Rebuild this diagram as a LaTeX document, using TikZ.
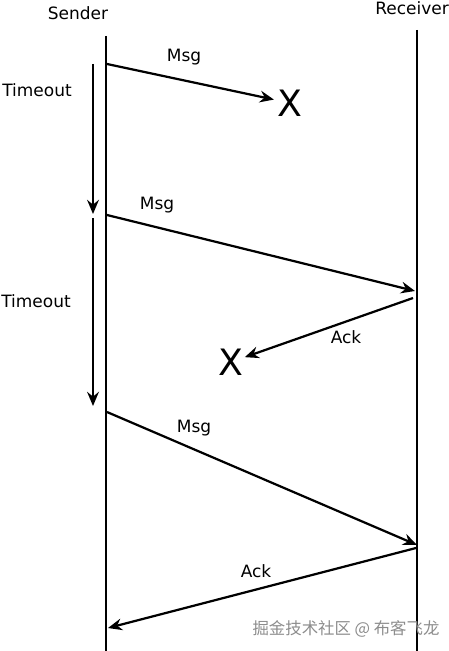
\documentclass[tikz,border=0pt]{standalone}
\usepackage{fontspec}
\setmainfont{DejaVu Sans}
\newfontfamily\cjkfont{Noto Sans CJK SC}
\usetikzlibrary{arrows.meta}

\tikzset{
  lifeline/.style={line width=2pt},
  msgline/.style={line width=1.9pt, -{Stealth[length=12pt,width=10pt,inset=4pt]}},
  timerline/.style={line width=2pt, -{Stealth[length=12pt,width=10pt,inset=4pt]}},
  lbl/.style={inner sep=0pt, font=\fontsize{14.5}{17}\selectfont},
  lost/.style={inner sep=0pt, font=\fontsize{31}{34}\selectfont},
}

\begin{document}
\begin{tikzpicture}[x=0.03cm, y=-0.03cm]
  \useasboundingbox (0,0) rectangle (448,651);

  % lifelines
  \node[lbl] (sender) at (78,13) {Sender};
  \node[lbl] (receiver) at (412,8) {Receiver};
  \coordinate (stop) at (106,36);
  \coordinate (sbot) at (106,651);
  \coordinate (rtop) at (417,30);
  \coordinate (rbot) at (417,651);
  \draw[lifeline] (stop) -- (sbot);
  \draw[lifeline] (rtop) -- (rbot);

  % timers
  \coordinate (t1a) at (93,64);
  \coordinate (t1b) at (93,214);
  \coordinate (t2a) at (93,218);
  \coordinate (t2b) at (93,406);
  \draw[timerline] (t1a) -- (t1b);
  \draw[timerline] (t2a) -- (t2b);
  \node[lbl] (timeout1) at (37,90) {Timeout};
  \node[lbl] (timeout2) at (36,301) {Timeout};

  % first try, lost
  \coordinate (m1s) at (107,64);
  \node[lost] (x1) at (290,103) {X};
  \draw[msgline, shorten >=3pt] (m1s) -- (x1);
  \node[lbl] (msg1) at (184,57) {Msg};

  % second try, ack lost
  \coordinate (m2s) at (107,215);
  \coordinate (m2e) at (415,291);
  \draw[msgline] (m2s) -- (m2e);
  \node[lbl] (msg2) at (157,205) {Msg};
  \coordinate (a1s) at (413,298);
  \node[lost] (x2) at (231,362) {X};
  \draw[msgline, shorten >=1pt] (a1s) -- (x2);
  \node[lbl] (ack1) at (346,337) {Ack};

  % third try
  \coordinate (m3s) at (107,412);
  \coordinate (m3e) at (417,545);
  \draw[msgline] (m3s) -- (m3e);
  \node[lbl] (msg3) at (194,428) {Msg};
  \coordinate (a2s) at (416,548);
  \coordinate (a2e) at (108,628);
  \draw[msgline] (a2s) -- (a2e);
  \node[lbl] (ack2) at (256,571) {Ack};

  \node[inner sep=0pt, text=black!45, font=\cjkfont\fontsize{14}{16}\selectfont]
    (mark) at (346,629) {掘金技术社区 @ 布客飞龙};
\end{tikzpicture}
\end{document}
